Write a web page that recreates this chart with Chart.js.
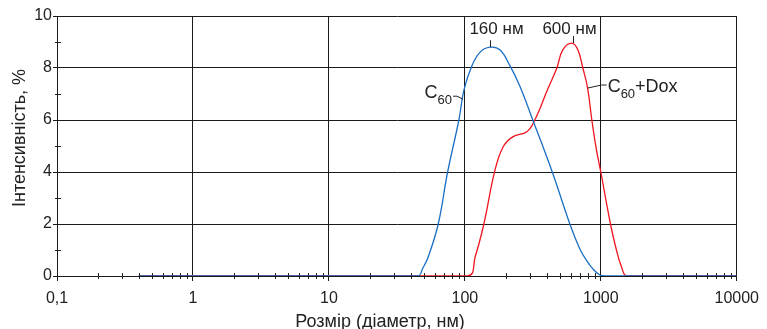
<!DOCTYPE html>
<html>
<head>
<meta charset="utf-8">
<script src="https://cdn.jsdelivr.net/npm/chart.js@4.4.1/dist/chart.umd.min.js"></script>
<style>
  body { margin: 0; background: #fff; }
  #wrap { width: 767px; height: 329px; }
</style>
</head>
<body>
<div id="wrap"><canvas id="myChart"></canvas></div>
<script>
// size distribution (size in nm, intensity in %)
const c60Sizes  = [0.4, 45, 49, 53.5, 63.7, 74.7, 90.4, 98.4, 112, 129, 153, 181, 214, 254, 311, 437, 592, 700, 785, 889, 1000, 1080, 10000]
const c60Values = [0, 0, 0.3, 0.7, 2.0, 4.0, 6.0, 7.15, 8.05, 8.6, 8.8, 8.7, 8.1, 7.3, 6.1, 4.04, 2.0, 1.05, 0.6, 0.23, 0.02, 0, 0]

const doxSizes  = [0.4, 105, 119, 138, 166, 191, 225, 286, 327, 408, 475, 525, 612, 678, 738, 800, 859, 929, 1000, 1178, 1303, 1419, 1560, 10000]
const doxValues = [0, 0, 0.73, 2.0, 4.04, 4.96, 5.35, 5.55, 6.0, 7.2, 8.0, 8.7, 8.96, 8.7, 8.0, 7.23, 6.0, 4.85, 4.0, 2.0, 1.0, 0.36, 0, 0]

const xTicks = [0.1, 1, 10, 100, 1000, 10000]
const yTicks = [0, 2, 4, 6, 8, 10]

// peak labels: where the little mark sits on the curve, and the text
const peakSizes  = [153, 620]
const peakValues = [8.8, 8.96]
const peakLabels = ["160 нм", "600 нм"]

const font = "Liberation Sans, Arial, sans-serif"
const blue = "#1a6fc4"
const red = "#f0141e"

const isDecade = v => Math.abs(Math.log10(v) - Math.round(Math.log10(v))) < 1e-6

const toPoints = (xs, ys) => xs.map((x, i) => ({ x: x, y: ys[i] }))

const extras = {
    id: "extras",
    afterDraw(chart) {
        const ctx = chart.ctx
        const xs = chart.scales.x
        const ys = chart.scales.y
        const area = chart.chartArea
        ctx.save()
        ctx.strokeStyle = "#222"
        ctx.lineWidth = 1

        // minor ticks across the bottom axis (2..9 of every decade)
        for (let d = -1; d < 4; d++) {
            for (let m = 2; m <= 9; m++) {
                const px = Math.round(xs.getPixelForValue(m * Math.pow(10, d))) + 0.5
                ctx.beginPath()
                ctx.moveTo(px, area.bottom - 3)
                ctx.lineTo(px, area.bottom + 3)
                ctx.stroke()
            }
        }
        // minor ticks on the left axis (odd values)
        for (let v = 1; v < 10; v += 2) {
            const py = Math.round(ys.getPixelForValue(v)) + 0.5
            ctx.beginPath()
            ctx.moveTo(area.left - 2, py)
            ctx.lineTo(area.left + 4, py)
            ctx.stroke()
        }

        // peak labels
        ctx.fillStyle = "#222"
        ctx.font = "17px " + font
        ctx.textBaseline = "alphabetic"
        peakSizes.forEach((s, i) => {
            const px = Math.round(xs.getPixelForValue(s)) + 0.5
            const py = ys.getPixelForValue(peakValues[i])
            ctx.beginPath()
            ctx.moveTo(px, py)
            ctx.lineTo(px, py - 7)
            ctx.stroke()
            ctx.textAlign = "center"
            ctx.fillText(peakLabels[i], px + (i === 0 ? 6 : -4), 34)
        })

        // C60 label with leader
        let ax = xs.getPixelForValue(97), ay = ys.getPixelForValue(6.8)
        ctx.beginPath()
        ctx.moveTo(ax, ay)
        ctx.lineTo(ax - 6, ay - 3)
        ctx.lineTo(ax - 10, ay - 3)
        ctx.stroke()
        ctx.textAlign = "right"
        ctx.font = "13px " + font
        ctx.fillText("60", ax - 11, ay + 5)
        const subW = ctx.measureText("60").width
        ctx.font = "18px " + font
        ctx.fillText("C", ax - 11 - subW, ay - 1)

        // C60+Dox label with leader
        ax = xs.getPixelForValue(800); ay = ys.getPixelForValue(7.23)
        ctx.beginPath()
        ctx.moveTo(ax, ay)
        ctx.lineTo(ax + 14, ay - 3)
        ctx.lineTo(ax + 19, ay - 3)
        ctx.stroke()
        ctx.textAlign = "left"
        let tx = ax + 20
        ctx.fillText("C", tx, ay + 4)
        tx += ctx.measureText("C").width
        ctx.font = "13px " + font
        ctx.fillText("60", tx, ay + 10)
        tx += ctx.measureText("60").width
        ctx.font = "18px " + font
        ctx.fillText("+Dox", tx, ay + 4)

        // axis titles
        ctx.font = "18px " + font
        ctx.textAlign = "center"
        ctx.fillText("Розмір (діаметр, нм)", 380, 327)
        ctx.translate(25, 138)
        ctx.rotate(-Math.PI / 2)
        ctx.fillText("Інтенсивність, %", 0, 0)
        ctx.restore()
    }
}

new Chart(document.getElementById("myChart"), {
    type: "line",
    data: {
        datasets: [{
            label: "C60",
            data: toPoints(c60Sizes, c60Values),
            borderColor: blue,
            borderWidth: 1.3,
            pointRadius: 0,
            tension: 0.4
        }, {
            label: "C60+Dox",
            data: toPoints(doxSizes, doxValues),
            borderColor: red,
            borderWidth: 1.3,
            pointRadius: 0,
            tension: 0.4
        }]
    },
    options: {
        responsive: true,
        maintainAspectRatio: false,
        animation: false,
        events: [],
        layout: { padding: { left: 0, top: 16, right: 30, bottom: 0 } },
        plugins: {
            legend: { display: false },
            tooltip: { enabled: false }
        },
        scales: {
            x: {
                type: "logarithmic",
                min: 0.1,
                max: 10000,
                afterFit: s => { s.height = 53 },
                afterBuildTicks: s => {
                    s.ticks = s.ticks.filter(t => isDecade(t.value))
                },
                ticks: {
                    autoSkip: false,
                    maxRotation: 0,
                    padding: 8,
                    color: "#222",
                    font: { family: font, size: 16 },
                    callback: v => xTicks.includes(+v) ? String(v).replace(".", ",") : ""
                },
                grid: {
                    color: "#1a1a1a",
                    lineWidth: 1,
                    tickLength: 5,
                    tickColor: "#1a1a1a"
                },
                border: { color: "#1a1a1a", width: 1 }
            },
            y: {
                min: 0,
                max: 10,
                afterFit: s => { s.width = 57 },
                afterBuildTicks: s => {
                    s.ticks = yTicks.map(v => ({ value: v }))
                },
                ticks: {
                    padding: 1,
                    color: "#222",
                    font: { family: font, size: 16 }
                },
                grid: {
                    color: "#1a1a1a",
                    lineWidth: 1,
                    tickLength: 4,
                    tickColor: "#1a1a1a"
                },
                border: { color: "#1a1a1a", width: 1 }
            }
        }
    },
    plugins: [extras]
})
</script>
</body>
</html>
